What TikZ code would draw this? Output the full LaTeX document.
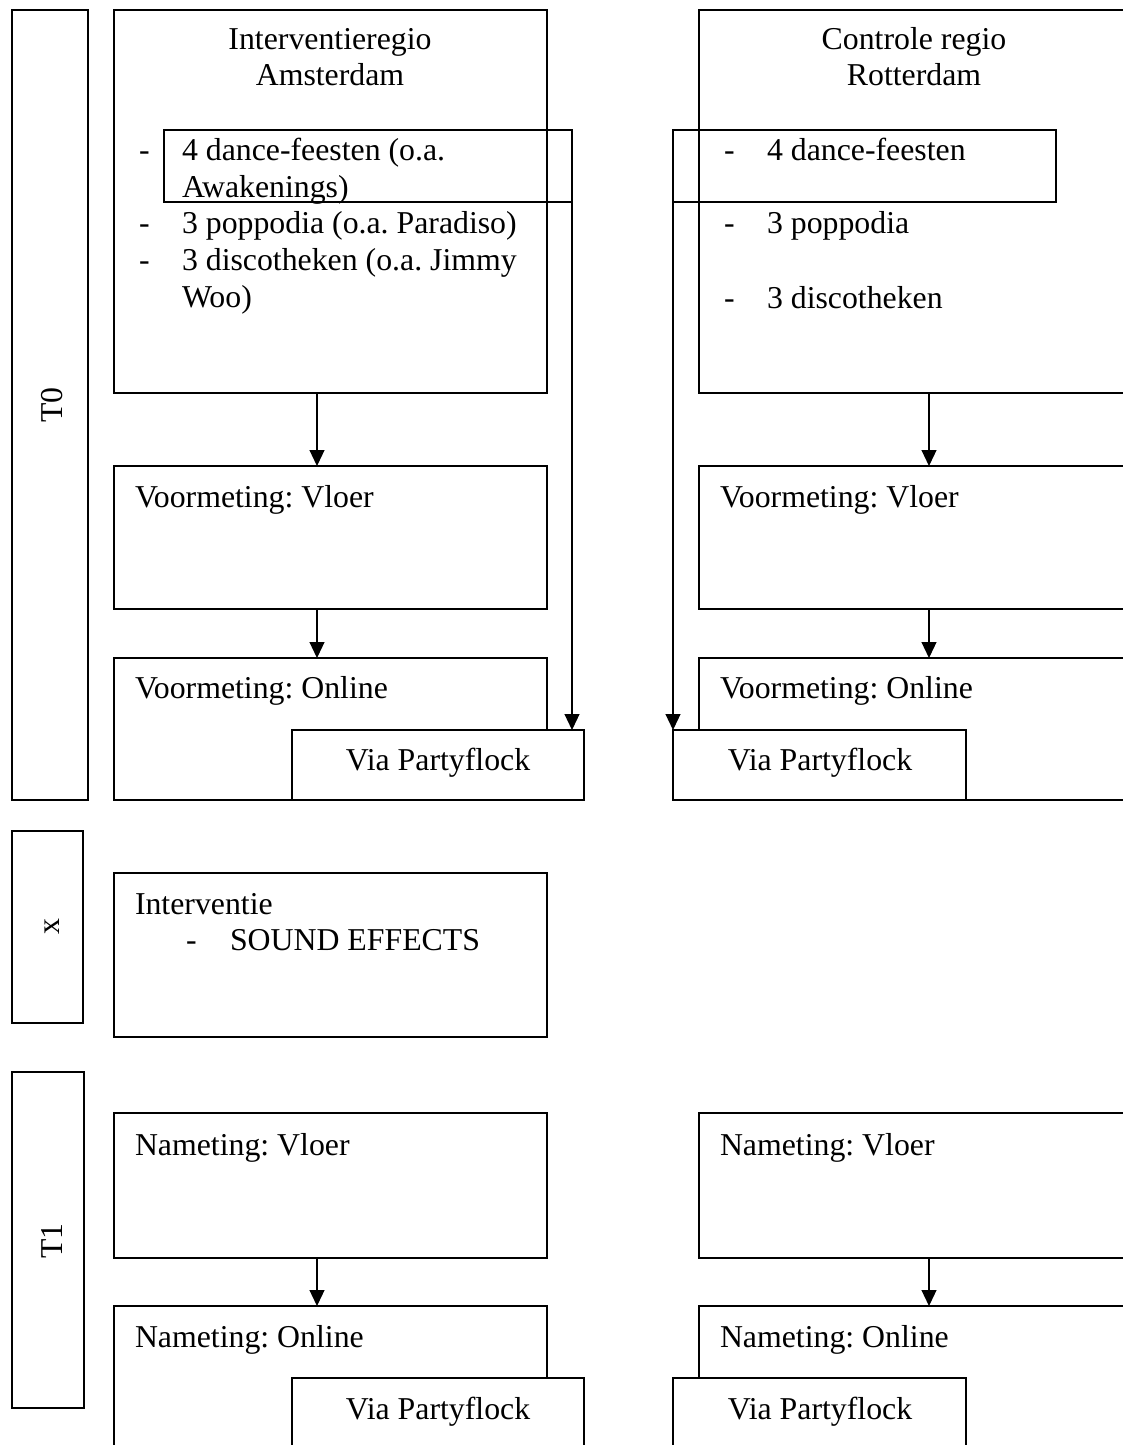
\documentclass[tikz,border=0pt]{standalone}
\usepackage{fontspec}
\setmainfont{Liberation Serif}
\usetikzlibrary{arrows.meta}
\frenchspacing
\newcommand\fsz{\fontsize{15.9pt}{18pt}\selectfont}
\newcommand\pbox[6][]{\node[box,#1,minimum width=#5*0.5pt,minimum height=#6*0.5pt] (#2) at (#3,#4) {};}
\begin{document}
\begin{tikzpicture}[x=0.5pt,y=-0.5pt,
  box/.style={draw,line width=1pt,inner sep=0pt,outer sep=0pt,anchor=north west},
  txt/.style={inner sep=0pt,outer sep=0pt,anchor=base west,font=\fsz},
  ctxt/.style={inner sep=0pt,outer sep=0pt,anchor=base,font=\fsz},
  vlab/.style={inner sep=0pt,outer sep=0pt,rotate=90,font=\fsz},
  arr/.style={line width=0.6pt,-{Triangle[length=8pt,width=7.5pt]}}]
\clip (0,0) rectangle (1123,1445);
\fill[white] (0,0) rectangle (1123,1445);
% period label boxes
\pbox{T0lab}{12}{10}{76}{790}
\pbox{Xlab}{12}{831}{71}{192}
\pbox{T1lab}{12}{1072}{72}{336}
\node[vlab] (T0txt) at (52,405) {T0};
\node[vlab] (Xtxt) at (52,927) {x};
\node[vlab] (T1txt) at (52,1241) {T1};
% region boxes
\pbox{topA}{114}{10}{433}{383}
\pbox{topB}{699}{10}{441}{383}
\pbox{dfA}{164}{130}{408}{72}
\pbox{dfB}{673}{130}{383}{72}
\node[ctxt] (tA1) at (330,50) {Interventieregio};
\node[ctxt] (tA2) at (330,86) {Amsterdam};
\node[ctxt] (tB1) at (914,50) {Controle regio};
\node[ctxt] (tB2) at (914,86) {Rotterdam};
% left list
\node[txt] (dA1) at (139,161) {-};
\node[txt] (lA1) at (182,161) {4 dance-feesten (o.a.};
\node[txt] (lA1b) at (182,197) {Awakenings)};
\node[txt] (dA2) at (139,233) {-};
\node[txt] (lA2) at (182,233) {3 poppodia (o.a. Paradiso)};
\node[txt] (dA3) at (139,270) {-};
\node[txt] (lA3) at (182,270) {3 discotheken (o.a. Jimmy};
\node[txt] (lA3b) at (182,307) {Woo)};
% right list
\node[txt] (dB1) at (724,161) {-};
\node[txt] (lB1) at (767,161) {4 dance-feesten};
\node[txt] (dB2) at (724,233) {-};
\node[txt] (lB2) at (767,233) {3 poppodia};
\node[txt] (dB3) at (724,308) {-};
\node[txt] (lB3) at (767,308) {3 discotheken};
% T0 measurement boxes
\pbox{vloerA}{114}{466}{433}{143}
\pbox{vloerB}{699}{466}{441}{143}
\pbox{onlA}{114}{658}{433}{142}
\pbox{onlB}{699}{658}{441}{142}
\pbox[fill=white]{viaA}{292}{730}{292}{70}
\pbox[fill=white]{viaB}{673}{730}{293}{70}
\node[txt] (vlA) at (135,507) {Voormeting: Vloer};
\node[txt] (vlB) at (720,507) {Voormeting: Vloer};
\node[txt] (onA) at (135,698) {Voormeting: Online};
\node[txt] (onB) at (720,698) {Voormeting: Online};
\node[ctxt] (pA) at (438,770) {Via Partyflock};
\node[ctxt] (pB) at (820,770) {Via Partyflock};
% intervention
\pbox{intv}{114}{873}{433}{164}
\node[txt] (intT) at (135,914) {Interventie};
\node[txt] (intD) at (186,950) {-};
\node[txt] (intS) at (230,950) {SOUND EFFECTS};
% T1 boxes
\pbox{nvA}{114}{1113}{433}{145}
\pbox{nvB}{699}{1113}{441}{145}
\pbox{noA}{114}{1306}{433}{160}
\pbox{noB}{699}{1306}{441}{160}
\pbox[fill=white]{nviaA}{292}{1378}{292}{90}
\pbox[fill=white]{nviaB}{673}{1378}{293}{90}
\node[txt] (nvAt) at (135,1155) {Nameting: Vloer};
\node[txt] (nvBt) at (720,1155) {Nameting: Vloer};
\node[txt] (noAt) at (135,1347) {Nameting: Online};
\node[txt] (noBt) at (720,1347) {Nameting: Online};
\node[ctxt] (npA) at (438,1419) {Via Partyflock};
\node[ctxt] (npB) at (820,1419) {Via Partyflock};
% connectors
\coordinate (cA) at (317,0);
\coordinate (cB) at (929,0);
\draw[arr] (topA.south -| cA) -- (vloerA.north -| cA);
\draw[arr] (topB.south -| cB) -- (vloerB.north -| cB);
\draw[arr] (vloerA.south -| cA) -- (onlA.north -| cA);
\draw[arr] (vloerB.south -| cB) -- (onlB.north -| cB);
\draw[arr] (dfA.south east) -- (viaA.north -| dfA.east);
\draw[arr] (dfB.south west) -- (viaB.north -| dfB.west);
\draw[arr] (nvA.south -| cA) -- (noA.north -| cA);
\draw[arr] (nvB.south -| cB) -- (noB.north -| cB);
\end{tikzpicture}
\end{document}
